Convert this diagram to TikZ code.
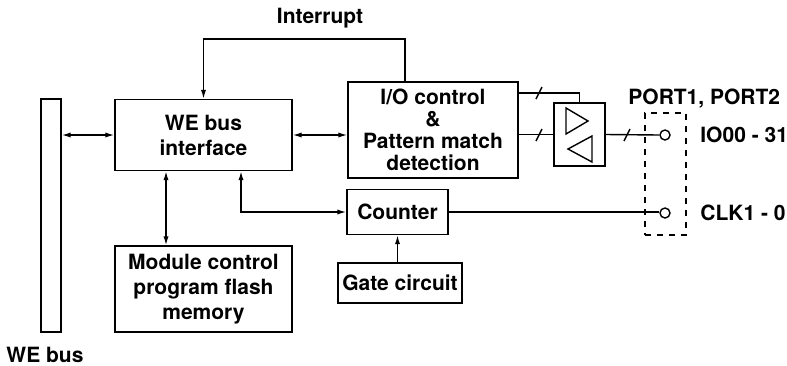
\documentclass[tikz,border=0pt]{standalone}
\usepackage{fontspec}
\setmainfont{TeX Gyre Heros}
\usetikzlibrary{arrows.meta,positioning}

\tikzset{
  block/.style={draw, line width=0.7pt, align=center, inner sep=0pt},
  pin/.style={draw, circle, line width=0.7pt, minimum size=5pt, inner sep=0pt},
  tag/.style={anchor=west, inner sep=0pt},
  link/.style={line width=0.7pt},
  >={Latex[length=4.5pt,width=2.6pt]}
}

\begin{document}
\begin{tikzpicture}[x=0.5pt, y=-0.5pt, font=\bfseries\fontsize{10.5}{12.5}\selectfont]
  \useasboundingbox (0,0) rectangle (787,365);

  % Define nodes
  \node[block, minimum width=10pt, minimum height=116.5pt]   (bus)   at (51,215.5)   {};
  \node                                                      (buslbl) at (45,355)    {WE bus};
  \node[block, minimum width=88.5pt, minimum height=35.5pt]  (iface) at (203.5,135)  {WE bus\\interface};
  \node[block, minimum width=85pt, minimum height=48pt,
        font=\bfseries\fontsize{10.5}{10.9}\selectfont]      (ioctl) at (433,130)    {I/O control\\\&\\Pattern match\\detection};
  \node[block, minimum width=88.5pt, minimum height=43pt]    (mem)   at (203.5,289)  {Module control\\program flash\\memory};
  \node[block, minimum width=50.5pt, minimum height=22.5pt]  (cnt)   at (397.5,212)  {Counter};
  \node[block, minimum width=62pt, minimum height=20pt]      (gate)  at (400,283)    {Gate circuit};
  \node[block, minimum width=25.5pt, minimum height=31.5pt]  (buf)   at (579.5,134.5) {};
  \node[pin]                                                 (io)    at (665,135)    {};
  \node[pin]                                                 (clk)   at (665,213)    {};
  \node[draw, dashed, line width=0.6pt, minimum width=20.5pt,
        minimum height=61pt]                                 (port)  at (665.5,174)  {};
  \node[tag]                                                 (iolbl) at (700,135)    {IO00 - 31};
  \node[tag]                                                 (clklbl) at (700,213)   {CLK1 - 0};
  \node[tag]                                                 (portlbl) at (628,99)   {PORT1, PORT2};
  \node                                                      (irqlbl) at (320,18)    {Interrupt};
  \coordinate (irq) at (405,39);
  \coordinate (m)   at (166,0);
  \coordinate (c)   at (241,0);
  \coordinate (t)   at (0,93);

  % Buffer triangles
  \draw[link] (566,108) -- (566,134) -- (588,121) -- cycle;
  \draw[link] (592,136) -- (592,162) -- (568,149) -- cycle;

  % Connect the nodes
  \draw[link, <->] (iface.west) -- (iface.west -| bus.east);
  \draw[link, <->] (iface.east) -- (iface.east -| ioctl.west);
  \draw[link, ->] (irq |- ioctl.north) -- (irq) -| (iface.north);
  \draw[link, <->] (iface.south -| m) -- (mem.north -| m);
  \draw[link, <->] (iface.south -| c) |- (cnt.west);
  \draw[link, ->] (gate.north -| cnt.south) -- (cnt.south);
  \draw[link] (cnt.east) -- (cnt.east -| clk.west);
  \draw[link] (ioctl.east |- t) -| (buf.north);
  \draw[link] (ioctl.east |- buf.west) -- (buf.west);
  \draw[link] (buf.east) -- (io.west);

  % Bus marks
  \foreach \x/\y in {539/93, 539/135, 627/135}
    \draw[link] (\x-3,\y+6) -- (\x+3,\y-6);
\end{tikzpicture}
\end{document}
